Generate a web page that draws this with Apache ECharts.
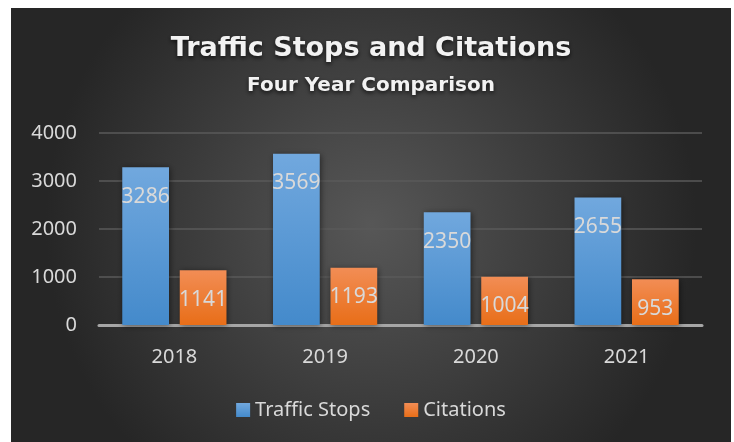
<!DOCTYPE html>
<html>
<head>
<meta charset="utf-8">
<script src="https://cdn.jsdelivr.net/npm/echarts@6/dist/echarts.min.js"></script>
<style>
  html, body { margin: 0; padding: 0; background: #ffffff; }
  #chart { position: absolute; left: 11px; top: 8px; width: 720px; height: 434px; }
</style>
</head>
<body>
<div id="chart"></div>
<script>
var years = ['2018', '2019', '2020', '2021'];
var trafficStops = [3286, 3569, 2350, 2655];
var citations = [1141, 1193, 1004, 953];
var yTicks = [0, 1000, 2000, 3000, 4000];

var myChart = echarts.init(document.getElementById('chart'));

var labelStyle = {
  show: true,
  position: 'insideTop',
  distance: 19,
  color: '#d9d9d9',
  fontFamily: 'Noto Sans',
  fontSize: 21
};

var option = {
  backgroundColor: {
    type: 'radial', x: 0.5, y: 0.5, r: 0.75,
    colorStops: [
      { offset: 0, color: '#575757' },
      { offset: 1, color: '#262626' }
    ]
  },
  title: [{
    text: 'Traffic Stops and Citations',
    left: 'center',
    top: 22,
    textStyle: {
      color: '#f2f2f2', fontFamily: 'DejaVu Sans', fontWeight: 'bold', fontSize: 27,
      textShadowColor: 'rgba(0,0,0,0.7)', textShadowBlur: 4, textShadowOffsetY: 2
    }
  }, {
    text: 'Four Year Comparison',
    left: 'center',
    top: 63,
    textStyle: {
      color: '#f2f2f2', fontFamily: 'DejaVu Sans', fontWeight: 'bold', fontSize: 20,
      textShadowColor: 'rgba(0,0,0,0.7)', textShadowBlur: 4, textShadowOffsetY: 2
    }
  }],
  legend: {
    bottom: 17,
    left: 'center',
    itemWidth: 14,
    itemHeight: 14,
    itemGap: 34,
    icon: 'rect',
    textStyle: { color: '#d9d9d9', fontFamily: 'Noto Sans', fontSize: 20 },
    data: ['Traffic Stops', 'Citations']
  },
  grid: { left: 88, right: 29, top: 125, bottom: 117 },
  xAxis: {
    type: 'category',
    data: years,
    axisTick: { show: false },
    axisLine: { lineStyle: { color: '#a6a6a6', width: 3 } },
    axisLabel: { color: '#d9d9d9', fontFamily: 'Noto Sans', fontSize: 20, margin: 22 }
  },
  yAxis: {
    type: 'value',
    min: yTicks[0],
    max: yTicks[yTicks.length - 1],
    interval: 1000,
    axisLine: { show: false },
    axisTick: { show: false },
    splitLine: { lineStyle: { color: '#5a5a5a', width: 1.5 } },
    axisLabel: {
      color: '#d9d9d9', fontFamily: 'Noto Sans', fontSize: 20, margin: 22,
      formatter: function (v) { return String(v); }
    }
  },
  series: [{
    name: 'Traffic Stops',
    type: 'bar',
    data: trafficStops,
    barWidth: '31%',
    barGap: '23%',
    itemStyle: {
      color: {
        type: 'linear', x: 0, y: 0, x2: 0, y2: 1,
        colorStops: [{ offset: 0, color: '#71a8de' }, { offset: 1, color: '#448acb' }]
      },
      shadowColor: 'rgba(0,0,0,0.5)', shadowBlur: 6, shadowOffsetX: 1, shadowOffsetY: 1
    },
    label: labelStyle
  }, {
    name: 'Citations',
    type: 'bar',
    data: citations,
    barWidth: '31%',
    itemStyle: {
      color: {
        type: 'linear', x: 0, y: 0, x2: 0, y2: 1,
        colorStops: [{ offset: 0, color: '#f28d55' }, { offset: 1, color: '#e86e18' }]
      },
      shadowColor: 'rgba(0,0,0,0.5)', shadowBlur: 6, shadowOffsetX: 1, shadowOffsetY: 1
    },
    label: labelStyle
  }]
};

myChart.setOption(option);
</script>
</body>
</html>
